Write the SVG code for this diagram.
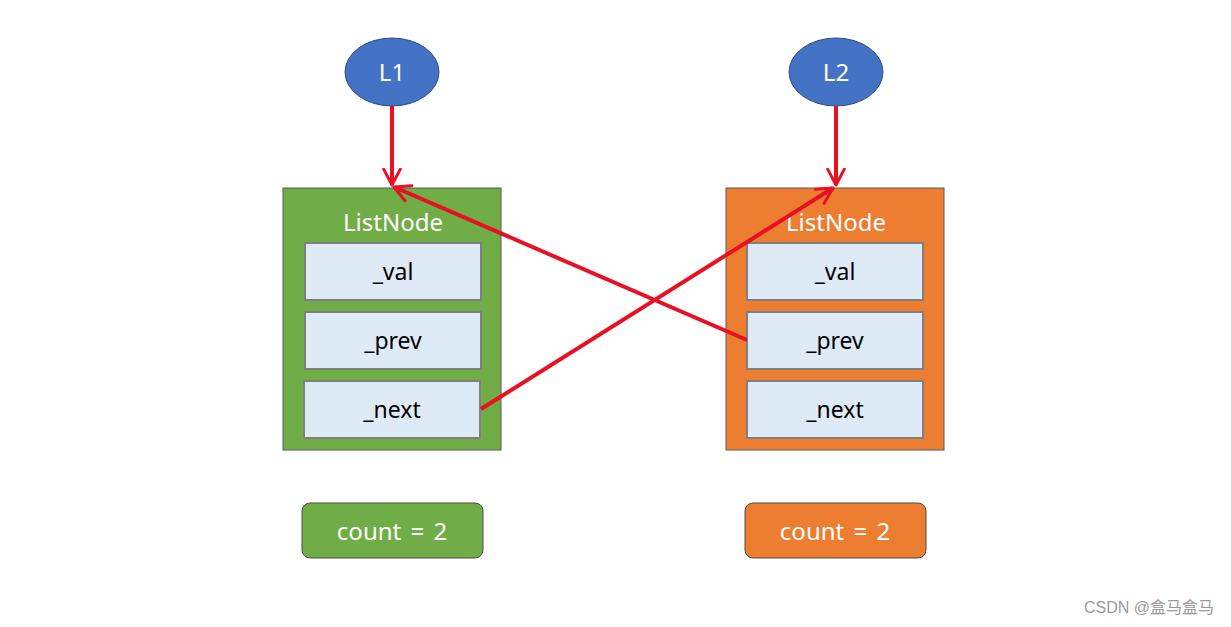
<svg xmlns="http://www.w3.org/2000/svg" width="1231" height="627" viewBox="0 0 1231 627">
<style>
text{font-family:"Noto Sans","Noto Sans CJK SC",sans-serif;text-anchor:middle;dominant-baseline:central}
.ell{fill:#4472C4;stroke:#2F4F7F;stroke-width:1}
.big{stroke:#5a5a5a;stroke-width:1}
.g{fill:#70AD47}
.o{fill:#ED7D31}
.cell{fill:#DEEAF6;stroke:#7F7F7F;stroke-width:2}
.w{fill:#fff;font-size:24px}
.k{fill:#000;font-size:23px}
.cnt{stroke:#4d4d4d;stroke-width:1}
.line{stroke:#E81123;stroke-width:4;fill:none;marker-end:url(#arr)}
</style>
<defs>
<marker id="arr" viewBox="0 0 12 12" refX="10.5" refY="6" markerWidth="5" markerHeight="5" markerUnits="strokeWidth" orient="auto">
<path d="M1,1 L10.5,6 L1,11" fill="none" stroke="#E81123" stroke-width="1.8" stroke-linecap="round" stroke-linejoin="round"/>
</marker>
</defs>
<rect width="1231" height="627" fill="#fff"/>
<g id="L1"><ellipse class="ell" cx="392" cy="72" rx="47" ry="34"/><text class="w" x="392" y="71">L1</text></g>
<g id="L2"><ellipse class="ell" cx="836" cy="72" rx="47" ry="34"/><text class="w" x="836" y="71">L2</text></g>
<g id="node1">
<rect class="big g" x="283" y="188" width="218" height="262"/>
<text class="w" x="393" y="221">ListNode</text>
<rect class="cell" x="305" y="243" width="176" height="57"/><text class="k" x="393" y="271">_val</text>
<rect class="cell" x="305" y="312" width="176" height="57"/><text class="k" x="393" y="340">_prev</text>
<rect class="cell" x="304" y="381" width="176" height="57"/><text class="k" x="392" y="409">_next</text>
</g>
<g id="node2">
<rect class="big o" x="726" y="188" width="218" height="262"/>
<text class="w" x="836" y="221">ListNode</text>
<rect class="cell" x="747" y="243" width="176" height="57"/><text class="k" x="835" y="271">_val</text>
<rect class="cell" x="747" y="312" width="176" height="57"/><text class="k" x="835" y="340">_prev</text>
<rect class="cell" x="747" y="381" width="176" height="57"/><text class="k" x="835" y="409">_next</text>
</g>
<g id="count1"><rect class="cnt g" x="302" y="503" width="181" height="55" rx="8"/><text class="w" x="392" y="530" style="word-spacing:3px">count = 2</text></g>
<g id="count2"><rect class="cnt o" x="745" y="503" width="181" height="55" rx="8"/><text class="w" x="835" y="530" style="word-spacing:3px">count = 2</text></g>
<g id="connectors">
<line class="line" x1="392" y1="106" x2="392" y2="185"/>
<line class="line" x1="836" y1="106" x2="836" y2="185"/>
<line class="line" x1="747" y1="340" x2="394" y2="187"/>
<line class="line" x1="481" y1="409" x2="833" y2="188"/>
</g>
<text x="1149" y="607" style="font-family:'Liberation Sans','Noto Sans CJK SC',sans-serif;font-size:16px;fill:#9a9a9a">CSDN @盒马盒马</text>
</svg>
